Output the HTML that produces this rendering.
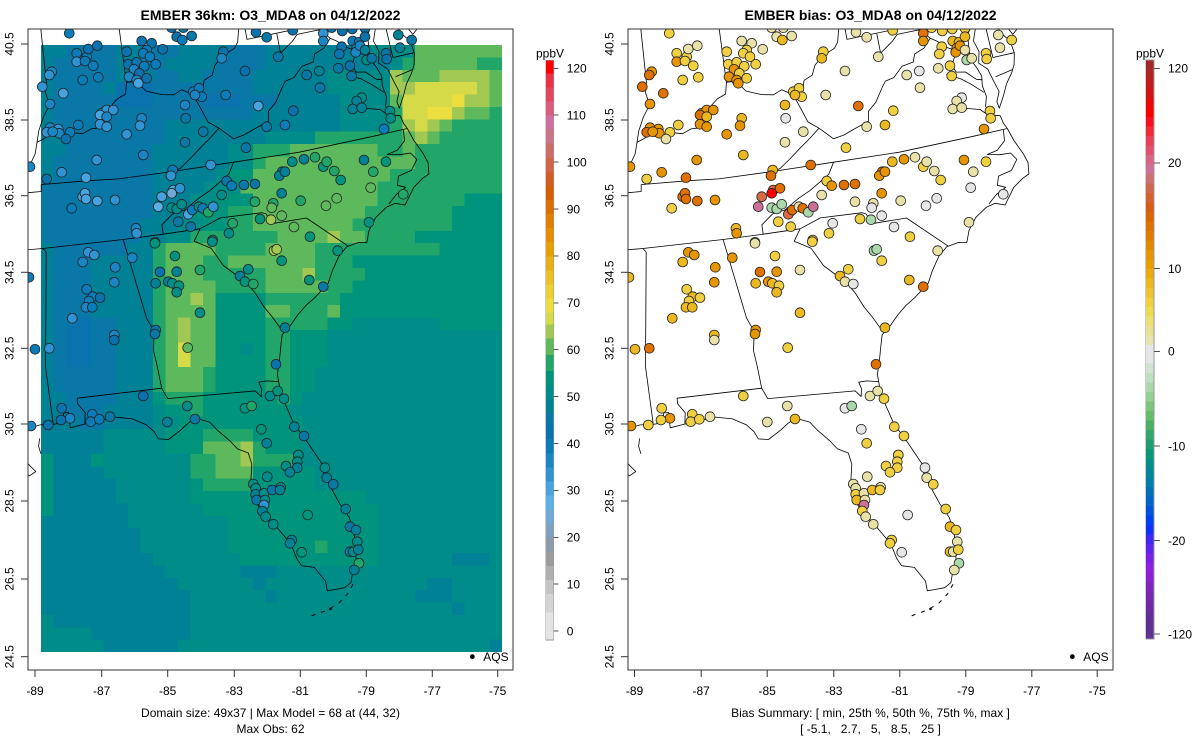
<!DOCTYPE html>
<html><head><meta charset="utf-8"><style>
html,body{margin:0;padding:0;background:#fff;}
svg{display:block}
text{font-family:"Liberation Sans",Arial,sans-serif;fill:#000}
</style></head><body>
<svg id="s" width="1200" height="750" viewBox="0 0 1200 750" xmlns="http://www.w3.org/2000/svg">
<defs>
<clipPath id="cl"><rect x="28" y="29" width="485" height="641"/></clipPath>
<clipPath id="cr"><rect x="628" y="29" width="485" height="641"/></clipPath>
</defs>
<rect x="0" y="0" width="1200" height="750" fill="#fff"/>
<g clip-path="url(#cl)"><g id="field" shape-rendering="crispEdges"></g><g id="linesL" transform="translate(-600,0)" fill="none" stroke="#000" stroke-width="0.8" stroke-linejoin="round"></g><g id="dotsL"></g><circle cx="472.3" cy="656.7" r="2.4" fill="#000"/></g>
<g clip-path="url(#cr)"><g id="linesR" fill="none" stroke="#000" stroke-width="0.8" stroke-linejoin="round"></g><g id="dotsR"></g><circle cx="1072.3" cy="656.7" r="2.4" fill="#000"/></g>
<rect x="28" y="29" width="485" height="641" fill="none" stroke="#333" stroke-width="1"/>
<rect x="628" y="29" width="485" height="641" fill="none" stroke="#333" stroke-width="1"/>
<g id="ticks" stroke="#333" stroke-width="1"></g>
<g id="cbL" shape-rendering="crispEdges"></g>
<g id="cbR" shape-rendering="crispEdges"></g>

<text x="270.5" y="20" text-anchor="middle" font-size="14" font-weight="bold">EMBER 36km: O3_MDA8 on 04/12/2022</text>
<text x="870.5" y="20" text-anchor="middle" font-size="14" font-weight="bold">EMBER bias: O3_MDA8 on 04/12/2022</text>

<g font-size="12" text-anchor="middle">
<text x="35" y="695">-89</text><text x="101.7" y="695">-87</text><text x="167.7" y="695">-85</text><text x="234.3" y="695">-83</text><text x="300.3" y="695">-81</text><text x="366.3" y="695">-79</text><text x="432.3" y="695">-77</text><text x="497.7" y="695">-75</text>
<text x="634.5" y="695">-89</text><text x="701.2" y="695">-87</text><text x="767.2" y="695">-85</text><text x="833.8" y="695">-83</text><text x="899.8" y="695">-81</text><text x="965.8" y="695">-79</text><text x="1031.8" y="695">-77</text><text x="1097.2" y="695">-75</text>
<text transform="translate(13.5,44) rotate(-90)">40.5</text><text transform="translate(13.5,120) rotate(-90)">38.5</text><text transform="translate(13.5,195.7) rotate(-90)">36.5</text><text transform="translate(13.5,272.3) rotate(-90)">34.5</text><text transform="translate(13.5,348.3) rotate(-90)">32.5</text><text transform="translate(13.5,424) rotate(-90)">30.5</text><text transform="translate(13.5,501) rotate(-90)">28.5</text><text transform="translate(13.5,579) rotate(-90)">26.5</text><text transform="translate(13.5,656.7) rotate(-90)">24.5</text>
<text transform="translate(613.5,44) rotate(-90)">40.5</text><text transform="translate(613.5,120) rotate(-90)">38.5</text><text transform="translate(613.5,195.7) rotate(-90)">36.5</text><text transform="translate(613.5,272.3) rotate(-90)">34.5</text><text transform="translate(613.5,348.3) rotate(-90)">32.5</text><text transform="translate(613.5,424) rotate(-90)">30.5</text><text transform="translate(613.5,501) rotate(-90)">28.5</text><text transform="translate(613.5,579) rotate(-90)">26.5</text><text transform="translate(613.5,656.7) rotate(-90)">24.5</text>
<text x="270.5" y="717">Domain size: 49x37 | Max Model = 68 at (44, 32)</text>
<text x="270.5" y="733">Max Obs: 62</text>
<text x="870.5" y="717" xml:space="preserve" style="white-space:pre">Bias Summary: [ min, 25th %, 50th %, 75th %, max ]</text>
<text x="870.5" y="733" xml:space="preserve" style="white-space:pre">[ -5.1,   2.7,   5,   8.5,   25 ]</text>
<text x="550" y="57.5">ppbV</text>
<text x="1150" y="57.5">ppbV</text>
</g>
<g font-size="12">
<text x="483.3" y="661">AQS</text>
<text x="1083.3" y="661">AQS</text>
<text x="566.7" y="72.6">120</text><text x="566.7" y="119.5">110</text><text x="566.7" y="166.4">100</text><text x="566.7" y="213.3">90</text><text x="566.7" y="260.2">80</text><text x="566.7" y="307.1">70</text><text x="566.7" y="354">60</text><text x="566.7" y="400.9">50</text><text x="566.7" y="447.8">40</text><text x="566.7" y="494.7">30</text><text x="566.7" y="541.6">20</text><text x="566.7" y="588.5">10</text><text x="566.7" y="635.4">0</text>
<text x="1168" y="72.6">120</text><text x="1168" y="167.2">20</text><text x="1168" y="272.9">10</text><text x="1168" y="355.7">0</text><text x="1168" y="450.3">-10</text><text x="1168" y="545">-20</text><text x="1168" y="638.3">-120</text>
</g>
</svg>
<script>
(function(){
const NS='http://www.w3.org/2000/svg';
function el(t,a,p){const e=document.createElementNS(NS,t);for(const k in a)e.setAttribute(k,a[k]);p.appendChild(e);return e;}
const LP=[[4,'#e4e4e4'],[8,'#d4d4d4'],[11,'#c4c4c4'],[14,'#b0b0b0'],[17,'#9c9c9c'],[20,'#8c9cac'],[23,'#80a0c0'],[26,'#70a8d8'],[29,'#5cb0e8'],[32,'#48a4e0'],[35,'#3094d4'],[38,'#1a86c6'],[41,'#0a7cba'],[44,'#0a72ac'],[46.5,'#0a78a6'],[49.5,'#008196'],[52.5,'#008c88'],[55.5,'#00947d'],[59,'#22a569'],[62.5,'#5eb95d'],[65.5,'#a0c852'],[68,'#d4da48'],[71,'#ecde3e'],[74,'#eed030'],[77,'#ecc020'],[80,'#eab010'],[83,'#e8a000'],[86,'#e68e00'],[89,'#e27e00'],[92,'#de6e00'],[95,'#d85c00'],[98,'#d45c20'],[101,'#d26448'],[104,'#d06c68'],[107,'#cc7488'],[110,'#d070a0'],[113,'#dc5c80'],[116,'#e44660'],[119,'#ec3048'],[999,'#ff0000']];
function lp(v){for(const p of LP){if(v<p[0])return p[1];}return '#ff0000';}
const VAL={A:43,B:45,C:48,D:51,E:54,F:57,G:61,H:64,I:67,J:69};
const G=["CCBBBBCCBBBCCCCBBBCCCCCCCCDDDDGGGGGGG","CBBBBBCCBBCCCCBBBBCCCCCCCCCCDFGGGGGFF","CBBBBBCCCBBCCBBBBCCCCCCDDDDDHGGGHHHHG","CBBBBCAAABBBBBBBBCCCCCCDDDDDHHIIIIIHG","CBBBBBAAABBBBAAABBBCCCCCDDDDGIIIIJHHG","CBBBBBBBBBBBBBBBBCCCCCCCDDDDFIIJJHGGF","CBBBBBBBBBCCCCCCCCCCCCCCDDDDFHIHGFFFF","CCBBBBBBBBCCCCCCCCDDDDFFFFFFFGHGFFFFF","CCBBBBBBBCCCCCCDDFFFGGGGGGGFFGFFFFFFF","CBBBBBBBBCCCCCCDDFGGGGGGGGGGGGFFFFFFF","CBBBBBBBBCCCCCDEEGGGGGGGGGGGFFFFFFFFF","BBBBBBBBBCCCCDDDGGGGGGGGGGGFFFFFFFFFF","BBBBBBBBBCCCDDEEEGGGGGGGGGGFFFFFFFEEE","BBBBBBBBBCCCEEEFFGGGGGGGGGFFFFFFFEEEE","BBBBBBBBCCCDDEEFFGGGGGGGGFFFFFFFFEEEE","BBBBBBBBCCDDFFFFFFFGGGGHGGFFFFEEEEEEE","CBBBBBBCCFGGGGFFFFGGGGFFFFFFFFFFEEEEE","CBBBCCCCCFGGGFFGGGGGGGFFFEEEEEEEEEEEE","CBBBCCCCCFGGGFFFFFGGGHFFFFEEEEEEEEEEE","CBBBCCCCCFGGGGFFFFGGGGGFFEEEEEEEEEEEE","CBBBCCCCCFGGHGEEEEFFFFFFEEEEEEEEEEEEE","CBBBCCCCCFGGGGEEEEGGFFFGEEEEEEEEEEEEE","CBAABBCCCFGHGGEEEEFFFFFEEDDDDDDDEEEEE","CBAABBCCCFGHGGEEEEFFEEEDDDDDDDDDDDDDD","CBAABBCCCFGIGGEEDEFFEEEDDDDDDDDDDDDDD","CBAABBCCCFGIGGEEEEFFEEEDDDDDDDDDDDDDD","CBBBBBCCCFGGGFEEEEFFEEDDDDDDDDDDDDDDD","CBBBBBCCCFGGGFEEEEFFEEDDDDDDDDDDDDDDD","CCBBBBCCCEFFFEEEEEEFEDDDDDDDDDDDDDDDD","CCBBBCCCCDEEFEEEEEEEDDDDDDDDDDDDDDDDD","CCCBBCCCCDDEEEEEEEEEEDDDDDDDDDDDDDDDD","CCCCCDDDDDEEEFFFFEEEEDDDDDDDDDDDDDDDD","CCCCCDDDDDEEEGGGHFEEEDDDDDDDDDDDDDDDD","ECCCEDDDDDDDFFGGHFFFFDDDDDDDDDDDDDDDD","ECCCCDDDDDDDFFGGGEEEEEDDDDDDDDDDDDDDD","ECCCCCDDDDDDEFFFFEEEEEDDDDDDDDDDDDDDD","ECCCCCDDDDDDEEEEEEEEEEEEEEDDDDDDDDDDD","ECCCCCCDDDDDDEEEEEEEEEEEEEEDDDDDDDDDD","CCCCCCCDDDDDDDDEEEEEEEEEEEEDDDDDDDDDD","CCCCCCCCDDDDDDDEEEEEEEEEEEEDDDDDDDDDD","CCCCCCCCDDDDDDDEEEEEEEFEEEEDDDDDDDDDD","CCCCCCCCCDDDDDDDEEEEEEEEEEEDDDDDDCCCD","CCCCCCCCCCDDDDDDCCCDDDDDDDDDDDDDDDDDD","CCCCCCCCCCCDDDDDDCDDDDDDDDDDDDDCCDDDD","CCCCCCCCCCCCDDDDDDCDDDDDDDDDDDCCCDDDD","CCCCCCCCCCCCDDDDDDDDDDDDDDDDDDDDDCDDD","DCCCCCCCCCCCDDDDDDDDDDDDDDDDDDDDDDDDD","DDDDCCCCCCCCDDDDDDDDDDDDDDDDDDDDDDDDD","DDDDDCCCCCCDDDDDDDDDDDDDDDDDDDDDDDDDC"];
const CW=12.46,CH=12.39,FX=41,FY=45;
const fg=document.getElementById('field');
for(let r=0;r<G.length;r++){for(let c=0;c<G[r].length;c++){
  el('rect',{x:(FX+c*CW).toFixed(2),y:(FY+r*CH).toFixed(2),width:(c==36?CW:CW+0.6).toFixed(2),height:(r==48?CH:CH+0.6).toFixed(2),fill:lp(VAL[G[r][c]])},fg);}}
function model(x,y){let c=Math.floor((x-FX)/CW),r=Math.floor((y-FY)/CH);c=Math.max(0,Math.min(36,c));r=Math.max(0,Math.min(48,r));return VAL[G[r][c]];}
const n=0.63041,F=1.95516,R0=1.20870,D=Math.PI/180;
function P(lon,lat){const rho=F/Math.pow(Math.tan((45+lat/2)*D),n);const t=n*(lon+97)*D;return [369.5+2182*rho*Math.sin(t),72.3-2182*(R0-rho*Math.cos(t))];}
const L=[
[[-73.9,40.8],[-74.0,40.45],[-74.05,40.1],[-74.1,39.75],[-74.4,39.4],[-74.75,39.05],[-74.95,38.93],[-75.05,39.1],[-75.2,39.25],[-75.45,39.4],[-75.55,39.6],[-75.45,39.8]],
[[-75.55,39.6],[-75.45,39.3],[-75.3,39.0],[-75.1,38.78],[-75.05,38.45],[-75.15,38.15],[-75.3,37.95],[-75.55,37.7],[-75.75,37.4],[-75.97,37.12],[-76.0,37.3],[-75.85,37.55],[-75.95,37.85],[-76.05,38.2],[-76.3,38.4],[-76.2,38.7],[-76.3,39.0],[-76.15,39.3],[-76.05,39.55],[-76.25,39.4],[-76.45,39.2],[-76.5,38.9],[-76.55,38.55],[-76.4,38.3],[-76.3,38.05],[-76.35,37.8],[-76.3,37.5],[-76.4,37.25],[-76.3,37.0],[-76.0,36.92],[-75.95,36.7],[-75.87,36.55],[-75.75,36.2],[-75.55,35.8],[-75.47,35.55],[-75.53,35.25],[-75.75,35.18],[-76.1,35.0],[-76.5,34.6],[-76.8,34.7],[-77.1,34.65],[-77.5,34.45],[-77.8,34.15],[-77.95,33.85],[-78.2,33.9],[-78.6,33.85],[-78.9,33.65],[-79.2,33.3],[-79.4,33.0],[-79.9,32.7],[-80.2,32.55],[-80.5,32.35],[-80.8,32.1],[-81.1,31.9],[-81.2,31.6],[-81.3,31.3],[-81.45,30.9],[-81.45,30.5],[-81.4,30.2],[-81.3,29.85],[-81.2,29.5],[-81.0,29.2],[-80.8,28.8],[-80.6,28.4],[-80.6,28.1],[-80.45,27.7],[-80.3,27.3],[-80.1,26.9],[-80.05,26.5],[-80.1,26.0],[-80.15,25.75],[-80.3,25.5],[-80.4,25.25],[-80.6,25.15],[-80.9,25.15],[-81.1,25.15],[-81.1,25.4],[-81.35,25.8],[-81.7,25.9],[-81.8,26.1],[-81.9,26.5],[-82.1,26.8],[-82.3,27.1],[-82.55,27.4],[-82.7,27.7],[-82.65,28.0],[-82.75,28.3],[-82.65,28.7],[-82.7,29.0],[-83.0,29.15],[-83.2,29.4],[-83.5,29.7],[-83.7,29.95],[-84.1,30.1],[-84.35,30.0],[-84.6,29.85],[-85.0,29.65],[-85.3,29.7],[-85.4,29.9],[-85.6,30.1],[-86.0,30.3],[-86.5,30.4],[-87.0,30.35],[-87.5,30.3],[-87.9,30.25],[-87.9,30.65],[-88.05,30.65],[-88.1,30.4],[-88.4,30.38],[-88.8,30.4],[-89.3,30.3],[-89.6,30.2],[-89.75,30.15],[-90.0,30.05]],
[[-90.0,30.05],[-89.75,29.95],[-89.6,29.75],[-89.4,29.6],[-89.2,29.35],[-89.05,29.2],[-89.25,29.1],[-89.4,29.25],[-89.6,29.3],[-89.9,29.3],[-90.2,29.1]],
[[-88.85,30.05],[-88.9,29.85],[-88.85,29.65]],
[[-76.0,36.55],[-76.05,36.25],[-76.35,36.05],[-76.7,36.0],[-76.3,35.92],[-75.95,35.9],[-75.8,35.7],[-76.05,35.45],[-76.5,35.38],[-76.6,35.15],[-76.35,35.05],[-76.7,34.92],[-77.0,34.72]],
[[-77.4,37.5],[-77.0,37.3],[-76.6,37.2],[-76.35,36.98]],
[[-77.45,38.3],[-77.0,38.1],[-76.7,37.9],[-76.35,37.62]],
[[-87.53,41.2],[-87.53,39.35],[-87.6,39.1],[-87.5,38.75],[-87.75,38.45],[-87.95,38.1],[-88.05,37.8]],
[[-89.17,37.0],[-88.95,37.2],[-88.45,37.1],[-88.15,37.5],[-88.05,37.8],[-87.6,37.95],[-87.2,37.85],[-86.8,37.95],[-86.5,37.9],[-86.2,38.0],[-85.9,38.0],[-85.8,38.25],[-85.5,38.5],[-85.2,38.7],[-84.9,38.8],[-84.82,39.1],[-84.5,39.1],[-84.2,38.8],[-83.7,38.65],[-83.3,38.6],[-83.0,38.7],[-82.7,38.55],[-82.6,38.42],[-82.3,38.6],[-82.2,38.85],[-81.9,38.95],[-81.75,39.2],[-81.45,39.4],[-81.0,39.55],[-80.85,39.7],[-80.75,40.0],[-80.6,40.4],[-80.52,40.64]],
[[-84.82,39.1],[-84.82,41.2]],
[[-80.52,41.2],[-80.52,39.72],[-75.79,39.72]],
[[-79.48,39.72],[-79.48,39.2],[-79.0,39.45],[-78.8,39.6],[-78.4,39.6],[-78.0,39.6],[-77.8,39.4],[-77.72,39.32],[-77.5,39.2],[-77.25,39.0],[-77.05,38.9],[-77.05,38.7],[-77.2,38.5],[-77.1,38.3],[-76.8,38.25],[-76.5,38.0],[-76.3,37.95]],
[[-77.72,39.32],[-78.0,39.1],[-78.35,39.0],[-78.45,38.8],[-78.85,38.75],[-79.2,38.5],[-79.5,38.45],[-79.65,38.3],[-79.95,37.95],[-80.25,37.75],[-80.3,37.5],[-80.85,37.35],[-81.2,37.25],[-81.55,37.2],[-81.97,37.54]],
[[-75.79,39.72],[-75.79,38.46],[-75.05,38.45]],
[[-75.25,38.03],[-75.85,37.95]],
[[-82.6,38.42],[-82.45,38.1],[-82.3,37.75],[-81.97,37.54]],
[[-81.97,37.54],[-82.35,37.3],[-82.7,37.1],[-83.1,36.85],[-83.45,36.65],[-83.68,36.6]],
[[-83.68,36.6],[-85.5,36.6],[-86.5,36.65],[-88.05,36.68],[-88.07,36.5],[-89.5,36.5]],
[[-83.68,36.6],[-81.68,36.59],[-79.5,36.54],[-77.0,36.55],[-75.87,36.55]],
[[-81.68,36.59],[-81.9,36.3],[-82.3,36.1],[-82.6,35.95],[-83.0,35.8],[-83.5,35.55],[-83.9,35.5],[-84.3,35.25],[-84.3,35.0]],
[[-84.3,35.0],[-85.6,35.0],[-88.2,35.0],[-90.3,35.0]],
[[-84.3,35.0],[-83.1,35.0],[-82.4,35.2],[-81.05,35.15],[-80.93,35.1],[-80.8,34.82],[-79.68,34.8],[-78.55,33.86]],
[[-83.1,35.0],[-83.35,34.7],[-82.85,34.45],[-82.55,33.95],[-82.2,33.65],[-81.95,33.45],[-81.7,33.1],[-81.5,32.7],[-81.3,32.4],[-81.1,32.05]],
[[-85.6,35.0],[-85.18,32.87],[-85.0,32.5],[-85.1,32.0],[-85.05,31.6],[-85.0,31.0],[-84.86,30.71]],
[[-84.86,30.71],[-82.2,30.57],[-82.05,30.4],[-82.0,30.6],[-82.05,30.78],[-81.8,30.78],[-81.45,30.71]],
[[-85.0,31.0],[-87.6,31.0],[-87.6,30.85],[-87.4,30.6],[-87.45,30.3]],
[[-88.2,35.0],[-88.1,34.9],[-88.47,31.9],[-88.4,30.4]],
[[-89.1,37.3],[-89.17,37.0],[-89.3,36.7],[-89.5,36.5],[-89.6,36.2],[-89.7,35.8],[-90.0,35.3]]
];
function pd(pts){return pts.map((q,i)=>{const p=P(q[0],q[1]);return (i?'L':'M')+p[0].toFixed(1)+' '+p[1].toFixed(1);}).join('');}
const lr=document.getElementById('linesR'),ll=document.getElementById('linesL');
let all='';for(const l of L)all+=pd(l);
el('path',{d:all},lr);el('path',{d:all},ll);
const keys=[[-80.35,25.2],[-80.55,24.98],[-80.85,24.78],[-81.2,24.66],[-81.6,24.6],[-81.8,24.55]];
for(const g of [lr,ll]){el('path',{d:pd(keys),'stroke-dasharray':'4 6','stroke-width':'1'},g);const k=P(-81.1,24.68);el('circle',{cx:k[0].toFixed(1),cy:k[1].toFixed(1),r:'1.3',fill:'#000',stroke:'none'},g);}
const BC={o:'#e69400',r:'#e07000',y:'#f0d040',Y:'#ecb820',p:'#e8e2a8',g:'#e6e6e6',l:'#aad8aa',k:'#cc7098',R:'#ff0000',s:'#d86a48'};
const BV={o:12,r:15,y:6,Y:9,p:3,g:0,l:-3,k:20,R:24,s:17};
const Z=[[610,25,[[178,25,'y'],[485,8,'p'],[520,8,'p'],[200,85,'y'],[200,110,'o'],[230,95,'y'],[225,108,'y'],[235,72,'p'],[262,62,'p'],[250,122,'y'],[218,165,'y'],[265,157,'y'],[125,140,'o'],[118,150,'r'],[97,185,'r'],[160,205,'r'],[120,237,'o'],[275,265,'o'],[290,255,'o'],[310,255,'o'],[270,270,'r'],[290,275,'Y'],[270,298,'o'],[290,305,'o'],[205,300,'y'],[120,308,'o'],[110,322,'r'],[145,312,'o'],[148,325,'o'],[128,320,'o'],[180,322,'y'],[168,342,'p'],[350,80,'y'],[355,118,'y'],[380,112,'y'],[403,124,'y'],[372,133,'o'],[388,145,'y'],[357,155,'o'],[380,165,'o'],[385,175,'o'],[410,160,'y'],[437,118,'y'],[395,48,'p'],[425,55,'p'],[410,75,'y'],[400,85,'y'],[420,95,'y'],[458,73,'p'],[500,35,'p'],[517,45,'Y'],[545,33,'p'],[640,80,'y'],[635,100,'Y'],[550,200,'y'],[567,190,'y'],[575,215,'y'],[555,210,'Y'],[525,240,'Y'],[527,280,'g'],[395,280,'Y'],[390,302,'o'],[350,328,'o'],[400,390,'Y'],[260,405,'o'],[525,352,'p'],[580,320,'p'],[647,210,'p'],[705,138,'p'],[745,243,'r'],[770,305,'p'],[825,300,'Y'],[850,257,'y'],[805,95,'p'],[708,368,'y'],[738,22,'p'],[770,37,'p'],[848,16,'y'],[890,150,'p'],[928,138,'g'],[930,188,'p'],[940,25,'r'],[940,48,'o'],[965,8,'y'],[997,18,'y'],[1027,12,'y'],[1065,10,'y'],[995,65,'y'],[988,87,'y'],[1028,48,'Y'],[1047,52,'Y'],[1040,70,'o'],[1037,82,'o'],[1050,62,'o'],[1065,35,'Y'],[1065,75,'p'],[1070,105,'l'],[1085,100,'p'],[1020,122,'y'],[1025,153,'y'],[985,130,'p'],[1128,85,'y'],[1130,102,'y'],[1165,30,'p'],[1170,68,'p'],[1205,45,'y'],[1055,218,'g'],[1040,228,'p'],[1028,252,'p'],[1055,248,'p'],[1140,258,'y'],[1142,280,'y'],[1122,312,'o'],[60,425,'o'],[110,462,'y'],[155,442,'o'],[228,458,'r'],[218,515,'r'],[225,505,'r'],[228,522,'r'],[262,528,'r'],[315,525,'o'],[185,550,'y'],[488,435,'Y'],[483,452,'r'],[602,420,'r'],[455,515,'s'],[490,495,'s'],[510,490,'r'],[485,505,'R'],[445,545,'k'],[485,548,'l'],[500,552,'l'],[515,538,'l'],[540,560,'s'],[535,568,'s'],[547,555,'r'],[567,545,'p'],[578,550,'r'],[595,562,'l'],[610,545,'k'],[650,468,'y'],[665,482,'o'],[702,480,'r'],[735,477,'r'],[635,510,'p'],[735,530,'p'],[790,535,'p'],[785,548,'g'],[817,440,'r'],[808,452,'o'],[825,440,'o'],[847,410,'Y'],[882,403,'o'],[815,505,'o'],[915,397,'p'],[940,425,'y'],[950,410,'p'],[973,438,'p'],[992,465,'y'],[872,527,'p'],[948,542,'g'],[980,520,'g'],[1062,405,'o'],[1128,410,'y'],[1090,440,'p'],[1082,488,'g'],[1180,508,'g'],[750,582,'y'],[783,584,'l'],[815,572,'g'],[852,606,'g'],[668,595,'g'],[505,590,'y'],[542,605,'y'],[608,645,'y'],[657,625,'y'],[378,610,'Y'],[380,625,'o'],[435,652,'p'],[900,635,'y'],[1077,592,'p']]],
[610,240,[[435,10,'p'],[607,5,'y'],[235,37,'o'],[253,45,'o'],[218,66,'Y'],[367,53,'o'],[316,82,'o'],[313,127,'o'],[230,148,'y'],[248,170,'Y'],[237,183,'y'],[228,202,'Y'],[247,202,'Y'],[270,173,'y'],[187,235,'Y'],[313,285,'Y'],[313,300,'p'],[75,328,'Y'],[118,325,'r'],[57,112,'Y'],[495,48,'y'],[450,96,'r'],[500,95,'o'],[570,90,'p'],[437,130,'Y'],[475,125,'o'],[487,130,'Y'],[507,137,'y'],[500,157,'Y'],[570,218,'Y'],[437,270,'o'],[435,282,'o'],[533,323,'y'],[690,108,'Y'],[705,125,'p'],[730,132,'g'],[715,88,'y'],[792,32,'l'],[800,28,'l'],[815,62,'y'],[983,32,'p'],[898,120,'Y'],[940,140,'r'],[825,263,'Y'],[798,373,'r'],[400,468,'y'],[532,498,'p'],[472,546,'p'],[555,537,'Y'],[155,505,'y'],[180,535,'o'],[153,540,'y'],[247,523,'y'],[242,545,'y'],[268,538,'y'],[300,530,'p'],[115,555,'y'],[63,558,'o'],[705,505,'g'],[725,498,'l'],[780,468,'p'],[803,453,'p'],[822,476,'y'],[754,568,'g'],[770,610,'y'],[853,560,'y'],[882,588,'y'],[865,645,'y']]],
[610,455,[[865,0,'y'],[862,20,'y'],[862,38,'y'],[828,33,'y'],[840,52,'y'],[945,38,'g'],[950,68,'p'],[970,88,'y'],[772,65,'p'],[730,87,'p'],[737,100,'p'],[737,118,'y'],[762,115,'p'],[740,135,'Y'],[765,135,'p'],[762,150,'k'],[757,168,'y'],[767,185,'p'],[790,208,'p'],[787,105,'Y'],[812,97,'p'],[810,105,'y'],[893,180,'g'],[1007,162,'y'],[1020,215,'Y'],[1038,225,'y'],[845,255,'y'],[840,265,'y'],[875,292,'g'],[1042,260,'p'],[1020,290,'Y'],[1030,290,'p'],[1045,284,'y'],[1047,325,'l'],[1033,345,'p']]]];
const dr=document.getElementById('dotsR'),dl=document.getElementById('dotsL');
for(const z of Z){for(const d of z[2]){const X=z[0]+d[0]/3,Y=z[1]+d[1]/3;
 el('circle',{cx:X.toFixed(1),cy:Y.toFixed(1),r:'4.9',fill:BC[d[2]],stroke:'#222','stroke-width':'0.8'},dr);
 const xl=X-600;el('circle',{cx:xl.toFixed(1),cy:Y.toFixed(1),r:'4.9',fill:lp(model(xl,Y)-BV[d[2]]),stroke:'#222','stroke-width':'0.8'},dl);}}
const tk=document.getElementById('ticks');
const xt=[35,101.7,167.7,234.3,300.3,366.3,432.3,497.7];
const yt=[44,120,195.7,272.3,348.3,424,501,579,656.7];
for(const o of [0,599.5]){for(const x of xt)el('line',{x1:x+o,y1:670,x2:x+o,y2:677},tk);}
for(const o of [0,600]){for(const y of yt)el('line',{x1:28+o,y1:y,x2:21+o,y2:y},tk);}
const cbl=document.getElementById('cbL');
function Yv(v){return 68.3+(120-v)*4.69;}
let lo=-10;for(const p of LP){let y1=Math.max(60.3,Yv(Math.min(p[0],125))),y2=Math.min(640,Yv(lo));if(y2>y1)el('rect',{x:545.7,y:y1.toFixed(2),width:8,height:(y2-y1+0.4).toFixed(2),fill:p[1]},cbl);lo=p[0];}
el('rect',{x:545.7,y:60.3,width:8,height:579.7,fill:'none',stroke:'#999','stroke-width':'0.6'},cbl);
for(const v of [120,110,100,90,80,70,60,50,40,30,20,10,0])el('line',{x1:553.7,y1:Yv(v),x2:558.7,y2:Yv(v),stroke:'#555'},cbl);
const RC=['#a02828','#b02424','#c01c1c','#d01414','#e80808','#ff0000','#f81020','#f02838','#e84058','#e05070','#d86488','#cc7098','#cc7070','#d06850','#d46030','#d85c10','#dc6400','#e07000','#e27c00','#e48800','#e69400','#e8a000','#eaac10','#ecb820','#eec430','#f0d040','#eedc50','#ece070','#eae090','#e8e4b0','#e6e6e6','#e6e6e6','#cfe3cf','#bfe0bf','#aad8aa','#94d094','#7cc67c','#64bc6c','#4cb064','#34a868','#1c9f70','#089878','#00908a','#008898','#0080a8','#0072b8','#0064c8','#0054dc','#0040f0','#1030f8','#3c28f0','#5c24ec','#7c20e4','#9020e0','#8c20d0','#8024c0','#7828b0','#7028a4','#682c98','#622e90','#5e3090'];
const cbr=document.getElementById('cbR');const h=(639-60)/RC.length;
RC.forEach((c,i)=>el('rect',{x:1145.7,y:(60+i*h).toFixed(2),width:8.3,height:(h+0.4).toFixed(2),fill:c},cbr));
el('rect',{x:1145.7,y:60,width:8.3,height:579,fill:'none',stroke:'#999','stroke-width':'0.6'},cbr);
for(const y of [68.3,162.9,268.6,351.4,446,540.7,634])el('line',{x1:1154,y1:y,x2:1160,y2:y,stroke:'#555'},cbr);
})();
</script>
</body></html>
